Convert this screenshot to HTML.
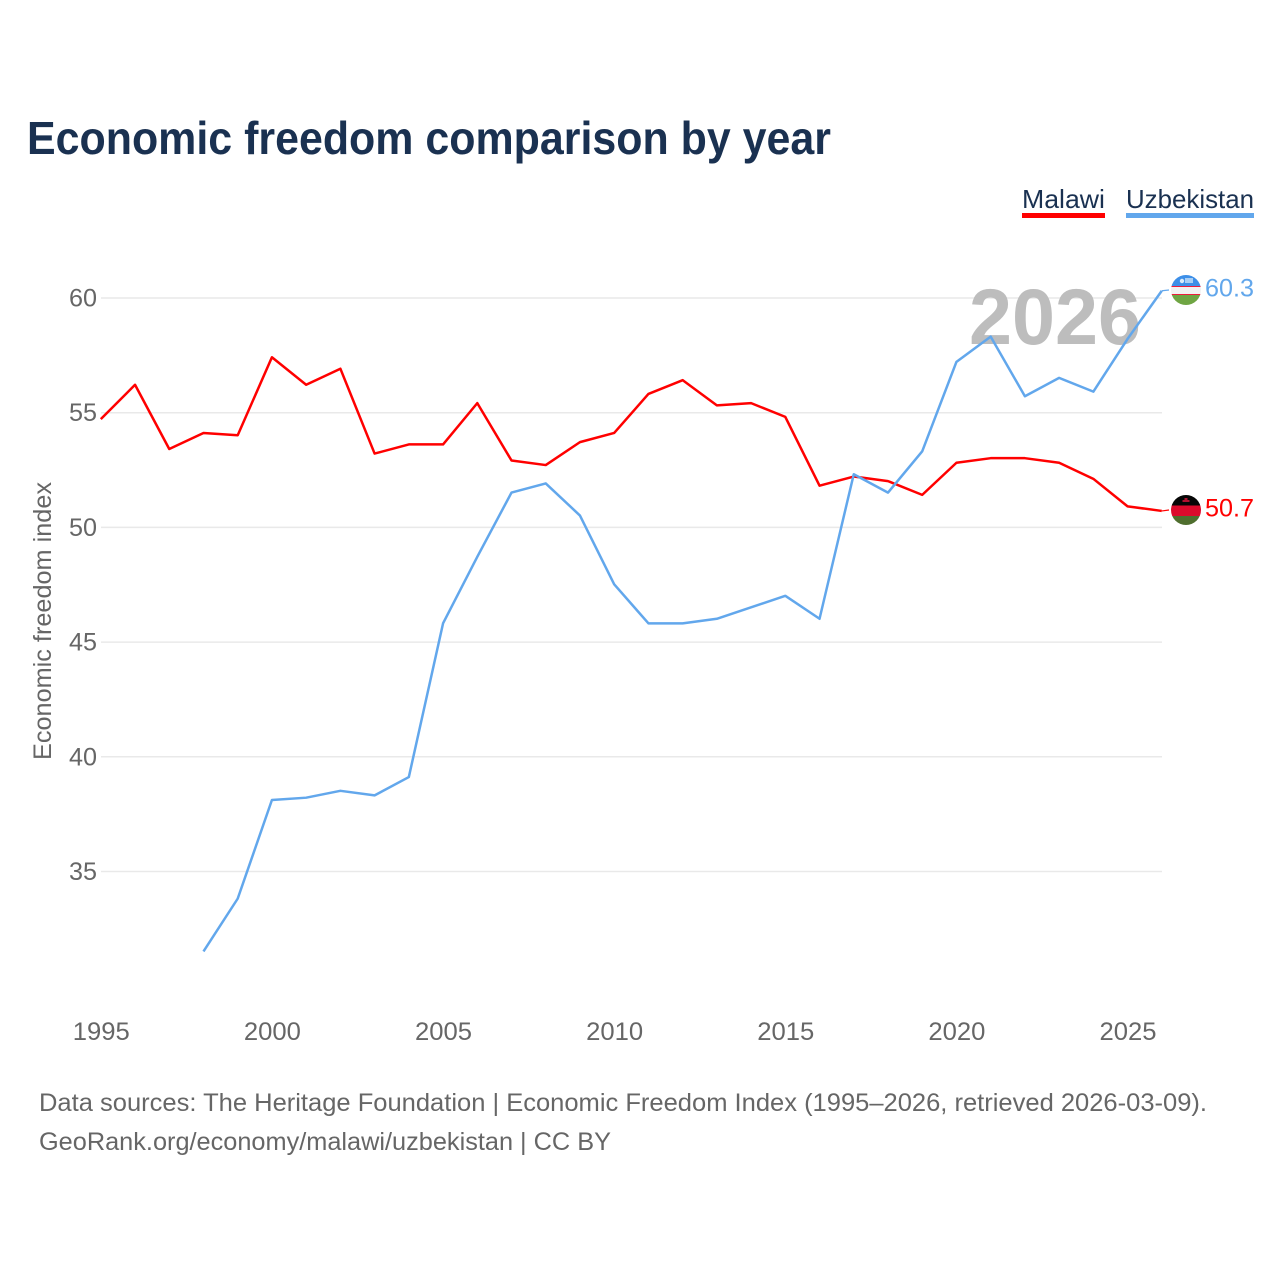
<!DOCTYPE html>
<html lang="en">
<head>
<meta charset="utf-8">
<title>Economic freedom comparison by year</title>
<style>
html,body{margin:0;padding:0;background:#fff;}
svg{display:block;font-family:"Liberation Sans",sans-serif;}
</style>
</head>
<body>
<svg id="chart" width="1280" height="1280" viewBox="0 0 1280 1280" xmlns="http://www.w3.org/2000/svg">
  <defs>
    <clipPath id="clip-uz"><circle id="clip-uz-circle" cx="0" cy="0" r="15"/></clipPath>
    <clipPath id="clip-mw"><circle id="clip-mw-circle" cx="0" cy="0" r="15"/></clipPath>
  </defs>
  <rect width="1280" height="1280" fill="#fff"/>
  <text x="27" y="154" font-size="46" font-weight="700" fill="#1a3151" textLength="804" lengthAdjust="spacingAndGlyphs">Economic freedom comparison by year</text>

  <g>
    <g>
      <text x="1022" y="208" font-size="26" fill="#1a3151" textLength="83" lengthAdjust="spacingAndGlyphs">Malawi</text>
      <rect x="1022" y="213" width="83" height="5" fill="#ff0000"/>
    </g>
    <g>
      <text x="1126" y="208" font-size="26" fill="#1a3151" textLength="128" lengthAdjust="spacingAndGlyphs">Uzbekistan</text>
      <rect x="1126" y="213" width="128" height="5" fill="#62a7ec"/>
    </g>
  </g>

  <g id="grid"></g>
  <g id="y-ticks"></g>
  <g id="x-ticks"></g>
  <text transform="translate(51,760) rotate(-90)" x="0" y="0" font-size="25" fill="#666" textLength="278" lengthAdjust="spacingAndGlyphs">Economic freedom index</text>

  <text x="969" y="344" font-size="79" font-weight="700" fill="#bdbdbd" textLength="172" lengthAdjust="spacingAndGlyphs">2026</text>

  <path id="line-malawi" fill="none" stroke="#ff0000" stroke-width="2.5" stroke-linejoin="round"/>
  <path id="line-uzbekistan" fill="none" stroke="#62a7ec" stroke-width="2.5" stroke-linejoin="round"/>
  <line id="connector-malawi" stroke="#ff0000" stroke-width="1.2"/>
  <line id="connector-uzbekistan" stroke="#62a7ec" stroke-width="1.2"/>

  <g id="flag-uz" clip-path="url(#clip-uz)">
    <rect x="-15" y="-15" width="30" height="11" fill="#3d8fe8"/>
    <rect x="-15" y="-4" width="30" height="1" fill="#ee1c3c"/>
    <rect x="-15" y="-3" width="30" height="7" fill="#f2f2f2"/>
    <rect x="-15" y="4" width="30" height="1" fill="#ee1c3c"/>
    <rect x="-15" y="5" width="30" height="10.5" fill="#6fa543"/>
    <circle cx="-4" cy="-9" r="2.2" fill="#dcebfa"/>
    <rect x="-1" y="-12" width="8" height="5" fill="#a9cff5"/>
  </g>
  <g id="flag-mw" clip-path="url(#clip-mw)">
    <rect x="-15" y="-15" width="30" height="10.5" fill="#060606"/>
    <rect x="-15" y="-4.5" width="30" height="10.5" fill="#dc0a2c"/>
    <rect x="-15" y="6" width="30" height="9.5" fill="#4f6e2e"/>
    <rect x="-3.5" y="-10" width="7" height="2" fill="#b01030"/>
    <rect x="-1.5" y="-12" width="3" height="2" fill="#b01030"/>
  </g>
  <text id="value-uz" x="1205" font-size="25" fill="#62a7ec" textLength="49" lengthAdjust="spacingAndGlyphs"></text>
  <text id="value-mw" x="1205" font-size="25" fill="#ff0000" textLength="49" lengthAdjust="spacingAndGlyphs"></text>

  <g>
    <text x="39" y="1111" font-size="25" fill="#666" textLength="1168" lengthAdjust="spacingAndGlyphs">Data sources: The Heritage Foundation | Economic Freedom Index (1995–2026, retrieved 2026-03-09).</text>
    <text x="39" y="1150" font-size="25" fill="#666" textLength="572" lengthAdjust="spacingAndGlyphs">GeoRank.org/economy/malawi/uzbekistan | CC BY</text>
  </g>
</svg>
<script>
var years = [1995,1996,1997,1998,1999,2000,2001,2002,2003,2004,2005,2006,2007,2008,2009,2010,2011,2012,2013,2014,2015,2016,2017,2018,2019,2020,2021,2022,2023,2024,2025,2026];
var malawi = [54.7,56.2,53.4,54.1,54.0,57.4,56.2,56.9,53.2,53.6,53.6,55.4,52.9,52.7,53.7,54.1,55.8,56.4,55.3,55.4,54.8,51.8,52.2,52.0,51.4,52.8,53.0,53.0,52.8,52.1,50.9,50.7];
var uzbekistan = [null,null,null,31.5,33.8,38.1,38.2,38.5,38.3,39.1,45.8,48.7,51.5,51.9,50.5,47.5,45.8,45.8,46.0,46.5,47.0,46.0,52.3,51.5,53.3,57.2,58.3,55.7,56.5,55.9,58.2,60.3];
var yTickValues = [35,40,45,50,55,60];
var xTickValues = [1995,2000,2005,2010,2015,2020,2025];

var SVGNS = 'http://www.w3.org/2000/svg';
function xScale(year){ return 100.8 + (year - 1995) * (1161.8 - 100.8) / (2026 - 1995); }
function yScale(v){ return 298 + (60 - v) * (871.5 - 298) / 25; }
function linePath(values){
  var d = '';
  var started = false;
  for (var i = 0; i < values.length; i++) {
    if (values[i] === null) { started = false; continue; }
    d += (started ? 'L' : 'M') + xScale(years[i]).toFixed(2) + ' ' + (yScale(values[i]) - 0.4).toFixed(2);
    started = true;
  }
  return d;
}
var gridGroup = document.getElementById('grid');
var yTickGroup = document.getElementById('y-ticks');
var xTickGroup = document.getElementById('x-ticks');

yTickValues.forEach(function(v){
  var gl = document.createElementNS(SVGNS, 'line');
  
  
  gl.setAttribute('x1', 101);
  gl.setAttribute('x2', 1162);
  gl.setAttribute('y1', yScale(v));
  gl.setAttribute('y2', yScale(v));
  gl.setAttribute('stroke', '#e9e9e9');
  gl.setAttribute('stroke-width', '1.5');
  gridGroup.appendChild(gl);

  var t = document.createElementNS(SVGNS, 'text');
  
  
  t.setAttribute('x', 69);
  t.setAttribute('y', yScale(v) + 8.5);
  t.setAttribute('font-size', '25');
  t.setAttribute('fill', '#666');
  t.setAttribute('textLength', '28');
  t.setAttribute('lengthAdjust', 'spacingAndGlyphs');
  t.textContent = String(v);
  yTickGroup.appendChild(t);
});

xTickValues.forEach(function(y){
  var t = document.createElementNS(SVGNS, 'text');
  
  
  t.setAttribute('x', xScale(y) - 28);
  t.setAttribute('y', 1040);
  t.setAttribute('font-size', '25');
  t.setAttribute('fill', '#666');
  t.setAttribute('textLength', '57');
  t.setAttribute('lengthAdjust', 'spacingAndGlyphs');
  t.textContent = String(y);
  xTickGroup.appendChild(t);
});

document.getElementById('line-malawi').setAttribute('d', linePath(malawi));
document.getElementById('line-uzbekistan').setAttribute('d', linePath(uzbekistan));

function placeEnd(values, flagId, connId, valueId){
  var last = values[values.length - 1];
  var py = yScale(last) - 0.4;
  var fy = Math.round(py - 0.6);
  var flag = document.getElementById(flagId);
  flag.setAttribute('transform', 'translate(1186,' + fy + ')');
  var conn = document.getElementById(connId);
  conn.setAttribute('x1', 1162);
  conn.setAttribute('x2', 1169);
  conn.setAttribute('y1', py);
  conn.setAttribute('y2', fy);
  var label = document.getElementById(valueId);
  label.setAttribute('y', fy + 6.5);
  label.textContent = last.toFixed(1);
}
placeEnd(uzbekistan, 'flag-uz', 'connector-uzbekistan', 'value-uz');
placeEnd(malawi, 'flag-mw', 'connector-malawi', 'value-mw');
</script>
</body>
</html>
